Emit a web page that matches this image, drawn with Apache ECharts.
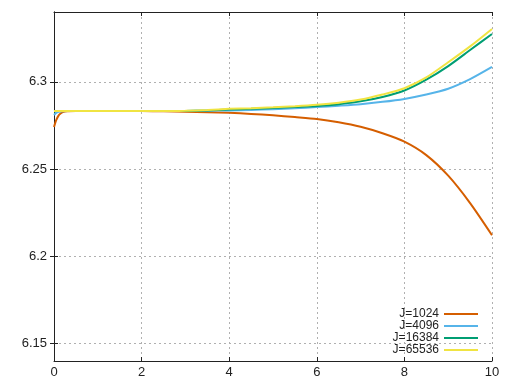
<!DOCTYPE html>
<html>
<head>
<meta charset="utf-8">
<script src="https://cdn.jsdelivr.net/npm/echarts@6/dist/echarts.min.js"></script>
<style>
  html, body { margin: 0; padding: 0; background: #fff; }
  #chart { width: 514px; height: 386px; }
</style>
</head>
<body>
<div id="chart"></div>
<script>
// x positions shared by all curves
const xs = [0, 0.05, 0.1, 0.15, 0.2, 0.3, 0.5, 1, 1.5, 2, 2.5, 3, 3.5, 4, 4.5, 5, 5.5, 6, 6.5, 7, 7.5, 8, 8.5, 9, 9.5, 10]

const j1024 = [6.2741, 6.2780, 6.2805, 6.2818, 6.2826, 6.2831, 6.2832, 6.2832, 6.2832, 6.2832, 6.2831, 6.2829, 6.2826, 6.2822, 6.2816, 6.2808, 6.2798, 6.2787, 6.2768, 6.2742, 6.2705, 6.2657, 6.2580, 6.2462, 6.2305, 6.2121]
const j4096 = [6.2810, 6.2822, 6.2828, 6.2830, 6.2831, 6.2832, 6.2832, 6.2832, 6.2832, 6.2832, 6.2832, 6.2833, 6.2834, 6.2836, 6.2839, 6.2843, 6.2848, 6.2855, 6.2863, 6.2872, 6.2885, 6.2902, 6.2927, 6.2960, 6.3015, 6.3085]
const j16384 = [6.2830, 6.2832, 6.2832, 6.2832, 6.2832, 6.2832, 6.2832, 6.2832, 6.2832, 6.2832, 6.2832, 6.2833, 6.2836, 6.2841, 6.2845, 6.2850, 6.2856, 6.2862, 6.2872, 6.2888, 6.2913, 6.2950, 6.3012, 6.3090, 6.3182, 6.3274]
const j65536 = [6.2832, 6.2832, 6.2832, 6.2832, 6.2832, 6.2832, 6.2832, 6.2832, 6.2832, 6.2832, 6.2832, 6.2834, 6.2838, 6.2845, 6.2849, 6.2854, 6.2860, 6.2868, 6.2880, 6.2898, 6.2927, 6.2963, 6.3025, 6.3112, 6.3203, 6.3303]

const names = ['J=1024', 'J=4096', 'J=16384', 'J=65536']
const colors = ['#d55e00', '#56b4e9', '#009e73', '#f0e442']
const yTicks = [6.15, 6.2, 6.25, 6.3]

const pair = ys => xs.map((x, i) => [x, ys[i]])

const frame = { lineStyle: { color: '#222', width: 1 } }
const grid = { show: true, lineStyle: { color: '#b0b0b0', width: 1, type: [2, 3] } }
const font = { fontFamily: 'Liberation Sans, Arial, sans-serif', fontSize: 13, color: '#222' }

const chart = echarts.init(document.getElementById('chart'))
chart.setOption({
  animation: false,
  grid: { left: 54, right: 22, top: 12, bottom: 25 },
  legend: {
    data: names,
    orient: 'vertical',
    right: 36,
    top: 308,
    padding: 0,
    align: 'right',
    icon: 'path://M0,0H34V2H0Z',
    itemWidth: 34,
    itemHeight: 2,
    itemGap: 0,
    itemTextGap: 7,
    itemStyle: { borderWidth: 0 },
    textStyle: { fontFamily: 'Liberation Sans, Arial, sans-serif', fontSize: 12, color: '#222', lineHeight: 12 }
  },
  xAxis: [{
    type: 'value', min: 0, max: 10, interval: 2,
    axisLine: frame,
    axisTick: { inside: true, length: 4, lineStyle: { color: '#222' } },
    axisLabel: Object.assign({ margin: 5 }, font),
    splitLine: grid
  }, {
    type: 'value', position: 'top', min: 0, max: 10, interval: 2,
    axisLine: frame,
    axisTick: { inside: true, length: 4, lineStyle: { color: '#222' } },
    axisLabel: { show: false },
    splitLine: { show: false }
  }],
  yAxis: [{
    type: 'value', min: 6.14, max: 6.34,
    axisLine: frame,
    axisTick: { inside: true, length: 4, customValues: yTicks, lineStyle: { color: '#222' } },
    axisLabel: Object.assign({ margin: 7, customValues: yTicks }, font),
    splitLine: grid
  }, {
    type: 'value', position: 'right', min: 6.14, max: 6.34,
    axisLine: frame,
    axisTick: { inside: true, length: 4, customValues: yTicks, lineStyle: { color: '#222' } },
    axisLabel: { show: false },
    splitLine: { show: false }
  }],
  series: [j1024, j4096, j16384, j65536].map((ys, i) => ({
    name: names[i],
    type: 'line',
    data: pair(ys),
    showSymbol: false,
    symbol: 'none',
    smooth: 0.25,
    color: colors[i],
    lineStyle: { width: 2, color: colors[i], type: 'solid' }
  }))
})
</script>
</body>
</html>
